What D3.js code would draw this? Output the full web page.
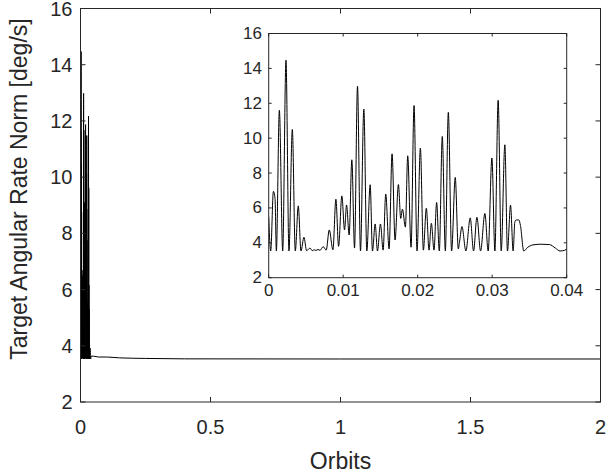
<!DOCTYPE html>
<html>
<head>
<meta charset="utf-8">
<script src="https://cdn.jsdelivr.net/npm/d3@7"></script>
<style>
  body { margin: 0; background: #fff; }
  text { font-family: "Liberation Sans", Arial, sans-serif; fill: #262626; }
</style>
</head>
<body>
<div id="viz"></div>
<script>
// orbit positions (first 0.04 orbits)
var orbits = [0, 0.00027, 0.00063, 0.00085, 0.00103, 0.00143, 0.00188, 0.00232, 0.00272, 0.00317,
  0.00357, 0.00397, 0.00433, 0.00473, 0.00509, 0.00554, 0.00585, 0.00612, 0.00634, 0.00661,
  0.00688, 0.00732, 0.00772, 0.00813, 0.00862, 0.00902, 0.00938, 0.00982, 0.01018, 0.01045,
  0.01080, 0.01116, 0.01152, 0.01192, 0.01232, 0.01277, 0.01317, 0.01362, 0.01393, 0.01429,
  0.01460, 0.01500, 0.01536, 0.01571, 0.01616, 0.01656, 0.01696, 0.01741, 0.01772, 0.01795,
  0.01835, 0.01866, 0.01911, 0.01951, 0.01991, 0.02036, 0.02076, 0.02116, 0.02152, 0.02183,
  0.02219, 0.02254, 0.02290, 0.02330, 0.02371, 0.02411, 0.02455, 0.02504, 0.02545, 0.02563,
  0.02594, 0.02647, 0.02705, 0.02750, 0.02795, 0.02844, 0.02902, 0.02946, 0.02996, 0.03036,
  0.03080, 0.03121, 0.03170, 0.03205, 0.03246, 0.03281, 0.03304, 0.03321, 0.03357, 0.03379,
  0.03424, 0.03478, 0.03545, 0.03656, 0.03768, 0.03848, 0.03911, 0.03969, 0.04000];
var rate = [5.5, 3.53, 6.95, 6.55, 3.53, 11.6, 3.53, 14.47, 3.53, 10.5,
  3.53, 6.12, 3.53, 4.32, 3.55, 3.7, 3.55, 3.6, 3.56, 3.62,
  3.57, 3.78, 3.58, 4.74, 3.6, 6.5, 3.8, 6.69, 4.74, 6.17,
  4.45, 8.76, 3.7, 12.98, 3.53, 11.67, 3.53, 7.33, 3.53, 5.08,
  3.53, 5.08, 3.58, 6.8, 3.65, 9.1, 4.16, 7.34, 5.4, 5.93,
  4.9, 8.99, 3.75, 11.87, 3.53, 9.43, 3.58, 5.98, 3.58, 5.12,
  3.58, 6.31, 3.53, 10.1, 3.53, 11.48, 3.53, 7.75, 3.65, 4.1,
  4.93, 3.53, 5.43, 3.53, 5.47, 3.53, 5.68, 3.53, 8.86, 3.53,
  12.17, 3.53, 9.62, 3.53, 6.16, 3.53, 5.2, 5.31, 5.31, 5.0,
  3.53, 3.75, 3.88, 3.92, 3.9, 3.7, 3.53, 3.57, 3.63];

// slow settling tail seen in the full plot
var tailOrbits = [0.05, 0.07, 0.1, 0.15, 0.25, 0.4, 1, 2];
var tailRate = [3.63, 3.6, 3.6, 3.57, 3.55, 3.535, 3.53, 3.53];

var mainXTicks = [0, 0.5, 1, 1.5, 2];
var yTicks = [2, 4, 6, 8, 10, 12, 14, 16];
var insetXTicks = [0, 0.01, 0.02, 0.03, 0.04];

var inset = orbits.map(function(d, i) { return {x: d, y: rate[i]}; });
var full = inset.concat(tailOrbits.map(function(d, i) { return {x: d, y: tailRate[i]}; }));

var W = 606, H = 475;
var svg = d3.select("#viz").append("svg")
  .attr("width", W).attr("height", H);

// box with inward ticks on all four sides, MATLAB style
function drawAxes(g, x, y, xTicks, tickLen, fontSize, xLabelY, yLabelX) {
  var x0 = x.range()[0], x1 = x.range()[1], y0 = y.range()[0], y1 = y.range()[1];
  g.append("rect")
    .attr("x", x0).attr("y", y1)
    .attr("width", x1 - x0).attr("height", y0 - y1)
    .attr("fill", "none").attr("stroke", "#262626").attr("stroke-width", 1);
  xTicks.forEach(function(t) {
    var px = x(t);
    g.append("line").attr("x1", px).attr("x2", px).attr("y1", y0).attr("y2", y0 - tickLen)
      .attr("stroke", "#262626");
    g.append("line").attr("x1", px).attr("x2", px).attr("y1", y1).attr("y2", y1 + tickLen)
      .attr("stroke", "#262626");
    g.append("text").attr("x", px).attr("y", xLabelY)
      .attr("text-anchor", "middle").attr("dominant-baseline", "central")
      .style("font-size", fontSize + "px").text(d3.format("~g")(t));
  });
  yTicks.forEach(function(t) {
    var py = y(t);
    g.append("line").attr("x1", x0).attr("x2", x0 + tickLen).attr("y1", py).attr("y2", py)
      .attr("stroke", "#262626");
    g.append("line").attr("x1", x1).attr("x2", x1 - tickLen).attr("y1", py).attr("y2", py)
      .attr("stroke", "#262626");
    g.append("text").attr("x", yLabelX).attr("y", py)
      .attr("text-anchor", "end").attr("dominant-baseline", "central")
      .style("font-size", fontSize + "px").text(t);
  });
}

// main axes
var x = d3.scaleLinear().domain([0, 2]).range([80.5, 600.5]);
var y = d3.scaleLinear().domain([2, 16]).range([402, 8.5]);

svg.append("clipPath").attr("id", "mainClip")
  .append("rect").attr("x", 80.5).attr("y", 8.5).attr("width", 520).attr("height", 393.5);

svg.append("path").datum(full)
  .attr("clip-path", "url(#mainClip)")
  .attr("fill", "none").attr("stroke", "#000").attr("stroke-width", 1)
  .attr("d", d3.line().curve(d3.curveMonotoneX)
    .x(function(d) { return x(d.x); })
    .y(function(d) { return y(d.y); }));

drawAxes(svg.append("g"), x, y, mainXTicks, 5, 20, 426.5, 72.5);

svg.append("text")
  .attr("transform", "translate(27,189) rotate(-90)")
  .attr("text-anchor", "middle")
  .style("font-size", "23px")
  .text("Target Angular Rate Norm [deg/s]");

svg.append("text")
  .attr("x", 340.5).attr("y", 461)
  .attr("text-anchor", "middle").attr("dominant-baseline", "central")
  .style("font-size", "23px")
  .text("Orbits");

// inset axes
var xi = d3.scaleLinear().domain([0, 0.04]).range([268.7, 566.7]);
var yi = d3.scaleLinear().domain([2, 16]).range([277.7, 33.5]);

svg.append("rect").attr("x", 268.7).attr("y", 33.5).attr("width", 298).attr("height", 244.2)
  .attr("fill", "#fff");

svg.append("clipPath").attr("id", "insetClip")
  .append("rect").attr("x", 268.7).attr("y", 33.5).attr("width", 298).attr("height", 244.2);

svg.append("path").datum(inset)
  .attr("clip-path", "url(#insetClip)")
  .attr("fill", "none").attr("stroke", "#000").attr("stroke-width", 1)
  .attr("d", d3.line().curve(d3.curveMonotoneX)
    .x(function(d) { return xi(d.x); })
    .y(function(d) { return yi(d.y); }));

drawAxes(svg.append("g"), xi, yi, insetXTicks, 3, 17, 290, 262);
</script>
</body>
</html>
